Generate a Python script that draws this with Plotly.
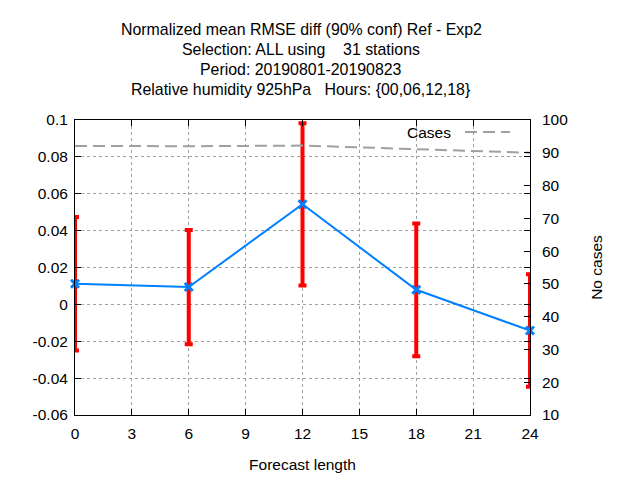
import plotly.graph_objects as go

# forecast lengths (hours)
lead_times = [0, 6, 12, 18, 24]

# normalized mean rmse difference Ref - Exp2 and 90% confidence half widths
rmse_diff = [0.0112, 0.0094, 0.0543, 0.0079, -0.0142]
conf_half = [0.0362, 0.0310, 0.0440, 0.0360, 0.0305]

# number of cases per forecast length
cases = [92.1, 92.0, 92.2, 91.2, 90.0]

y_ticks = [-0.06, -0.04, -0.02, 0, 0.02, 0.04, 0.06, 0.08, 0.1]
y_tick_labels = ["-0.06", "-0.04", "-0.02", "0", "0.02", "0.04", "0.06", "0.08", "0.1"]

title_lines = [
    "Normalized mean RMSE diff (90% conf) Ref - Exp2",
    "Selection: ALL using    31 stations",
    "Period: 20190801-20190823",
    "Relative humidity 925hPa   Hours: {00,06,12,18}",
]

FONT = "Liberation Sans"
FSIZE = 15.5
grid_color = "#a0a0a0"
blue = "#0080ff"

fig = go.Figure()

# cases on the right axis
fig.add_trace(go.Scatter(
    x=lead_times, y=cases, yaxis="y2", mode="lines",
    line=dict(color="#a0a0a0", width=2, dash="12px,6px"),
    showlegend=False, hoverinfo="skip",
))

# confidence bars drawn first so the line sits on top
fig.add_trace(go.Scatter(
    x=lead_times, y=rmse_diff, mode="markers",
    marker=dict(size=1, color="rgba(0,0,0,0)"),
    error_y=dict(type="data", array=conf_half, color="#ff0000", thickness=4, width=4),
    cliponaxis=False, showlegend=False,
))

fig.add_trace(go.Scatter(
    x=lead_times, y=rmse_diff, mode="lines+markers",
    line=dict(color=blue, width=2),
    marker=dict(symbol="x-thin", size=8, line=dict(color=blue, width=3)),
    cliponaxis=False, showlegend=False,
))

# the page body adds 8px, so margins are shifted to keep the plot box in place
fig.update_layout(
    width=640, height=480,
    margin=dict(l=67, r=118, t=112, b=73),
    paper_bgcolor="white", plot_bgcolor="white",
    font=dict(family=FONT, size=FSIZE, color="black"),
    showlegend=False,
    xaxis=dict(
        range=[0, 24], tickvals=list(range(0, 25, 3)),
        showline=True, linecolor="black", linewidth=1, mirror="ticks",
        ticks="inside", ticklen=6, tickcolor="black", ticklabelstandoff=4,
        showgrid=True, gridcolor=grid_color, griddash="dot", gridwidth=1,
        zeroline=False,
        title=dict(text="Forecast length", standoff=18, font=dict(size=FSIZE)),
    ),
    yaxis=dict(
        range=[-0.06, 0.1], tickvals=y_ticks, ticktext=y_tick_labels,
        showline=True, linecolor="black", linewidth=1, mirror="ticks",
        ticks="inside", ticklen=6, tickcolor="black", ticklabelstandoff=3,
        showgrid=True, gridcolor=grid_color, griddash="dot", gridwidth=1,
        zeroline=False,
    ),
    yaxis2=dict(
        range=[10, 100], dtick=10, overlaying="y", side="right",
        ticks="inside", ticklen=6, tickcolor="black", ticklabelstandoff=11,
        showgrid=False, zeroline=False,
        title=dict(text="No cases", standoff=23, font=dict(size=FSIZE)),
    ),
)

# title lines, stacked like the original
for i, line in enumerate(title_lines):
    fig.add_annotation(
        text=line, xref="paper", yref="paper",
        x=0.497, y=(415 - 29 - 20 * i) / 295,
        showarrow=False, xanchor="center", yanchor="middle",
        font=dict(family=FONT, size=15.9),
    )

# key for the cases line
fig.add_annotation(
    text="Cases", xref="paper", yref="paper",
    x=(453 - 75) / 455, y=(415 - 132) / 295,
    showarrow=False, xanchor="right", yanchor="middle",
    font=dict(family=FONT, size=FSIZE),
)
fig.add_shape(
    type="line", xref="paper", yref="paper",
    x0=(465 - 75) / 455, x1=(510 - 75) / 455,
    y0=(415 - 132) / 295, y1=(415 - 132) / 295,
    line=dict(color="#a0a0a0", width=2, dash="12px,6px"),
)

fig.write_html("out.html")
